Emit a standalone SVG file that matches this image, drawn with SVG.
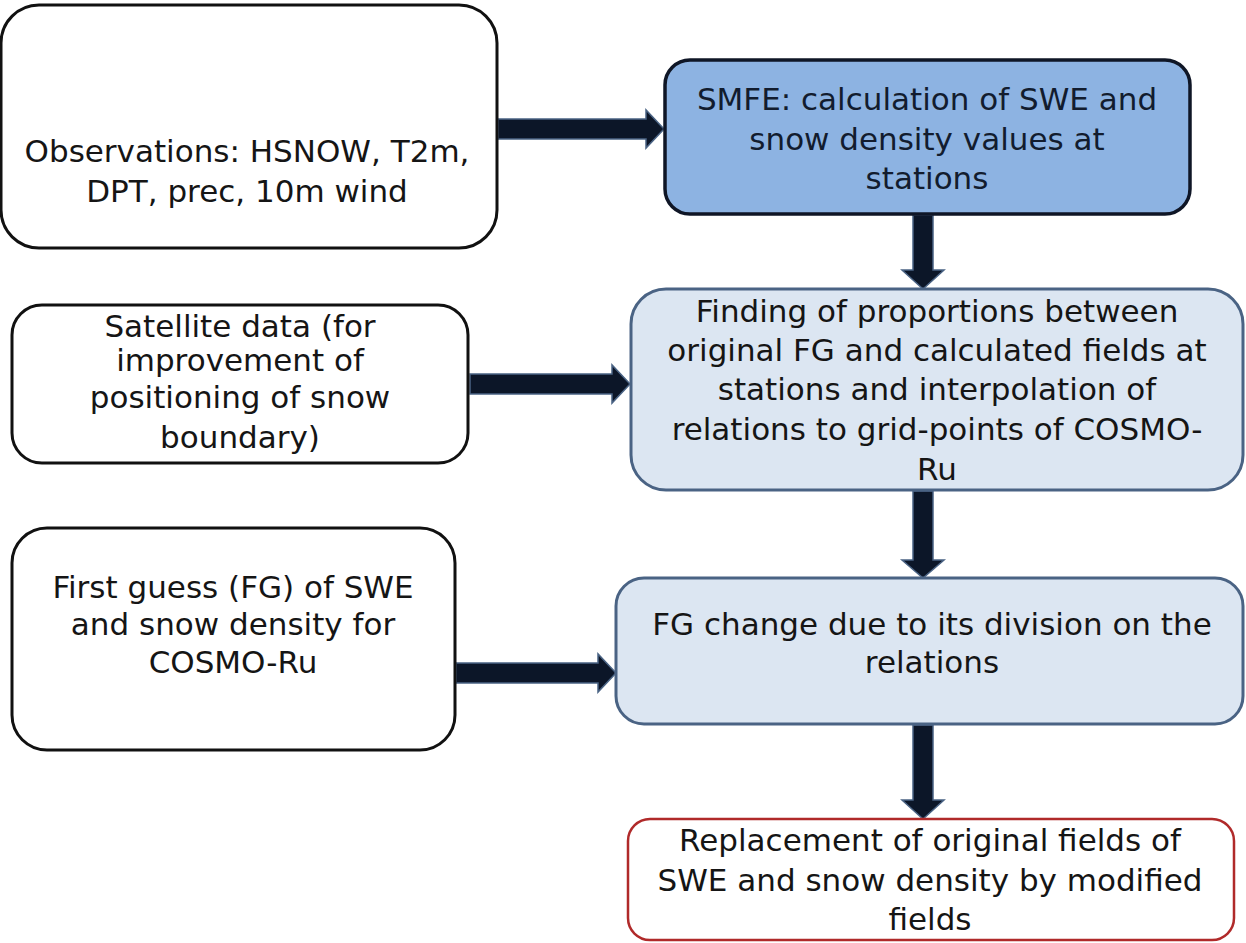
<svg xmlns="http://www.w3.org/2000/svg" width="1246" height="943" viewBox="0 0 1246 943">
<style>
.t{font-family:"DejaVu Sans",Verdana,sans-serif;font-size:31px;fill:#151515;text-anchor:middle}
.n{fill:#121c2e}
.w{fill:#ffffff;stroke:#111111;stroke-width:3}
.b{fill:#8db3e2;stroke:#0f1626;stroke-width:3.5}
.l{fill:#dce6f2;stroke:#4a6384;stroke-width:3}
.r{fill:#ffffff;stroke:#b02a2a;stroke-width:2.5}
.a{fill:#0c1628;stroke:#4a6384;stroke-width:1.5;stroke-linejoin:miter}
</style>
<rect width="1246" height="943" fill="#ffffff"/>
<g id="connectors">
<polygon class="a" points="498,119 646,119 646,110 664,129 646,148 646,139 498,139"/>
<polygon class="a" points="470,374 612,374 612,365 630,384 612,403 612,394 470,394"/>
<polygon class="a" points="456,663 598,663 598,654 616,673 598,692 598,683 456,683"/>
<polygon class="a" points="913,215 933,215 933,270 944,270 923,289 902,270 913,270"/>
<polygon class="a" points="913,491 933,491 933,560 944,560 923,578 902,560 913,560"/>
<polygon class="a" points="913,725 933,725 933,800 944,800 923,819 902,800 913,800"/>
</g>
<g id="obs">
<rect class="w" x="1" y="5" width="496" height="243" rx="38"/>
<text class="t" x="247" y="162">Observations: HSNOW, T2m,</text>
<text class="t" x="247" y="202">DPT, prec, 10m wind</text>
</g>
<g id="smfe">
<rect class="b" x="665" y="60" width="525" height="154" rx="25"/>
<text class="t n" x="927" y="110">SMFE: calculation of SWE and</text>
<text class="t n" x="927" y="150">snow density values at</text>
<text class="t n" x="927" y="189">stations</text>
</g>
<g id="finding">
<rect class="l" x="631" y="289" width="612" height="201" rx="35"/>
<text class="t" x="937" y="322">Finding of proportions between</text>
<text class="t" x="937" y="361">original FG and calculated fields at</text>
<text class="t" x="937" y="400">stations and interpolation of</text>
<text class="t" x="937" y="440">relations to grid-points of COSMO-</text>
<text class="t" x="937" y="480">Ru</text>
</g>
<g id="satellite">
<rect class="w" x="12" y="305" width="456" height="158" rx="30"/>
<text class="t" x="240" y="337">Satellite data (for</text>
<text class="t" x="240" y="371">improvement of</text>
<text class="t" x="240" y="408">positioning of snow</text>
<text class="t" x="240" y="448">boundary)</text>
</g>
<g id="fgchange">
<rect class="l" x="616" y="578" width="627" height="146" rx="28"/>
<text class="t" x="932" y="635">FG change due to its division on the</text>
<text class="t" x="932" y="673">relations</text>
</g>
<g id="firstguess">
<rect class="w" x="12" y="528" width="443" height="222" rx="35"/>
<text class="t" x="233" y="598">First guess (FG) of SWE</text>
<text class="t" x="233" y="635">and snow density for</text>
<text class="t" x="233" y="673">COSMO-Ru</text>
</g>
<g id="replacement">
<rect class="r" x="628" y="819" width="606" height="121" rx="22"/>
<text class="t" x="930" y="851">Replacement of original fields of</text>
<text class="t" x="930" y="891">SWE and snow density by modified</text>
<text class="t" x="930" y="930">fields</text>
</g>
</svg>
